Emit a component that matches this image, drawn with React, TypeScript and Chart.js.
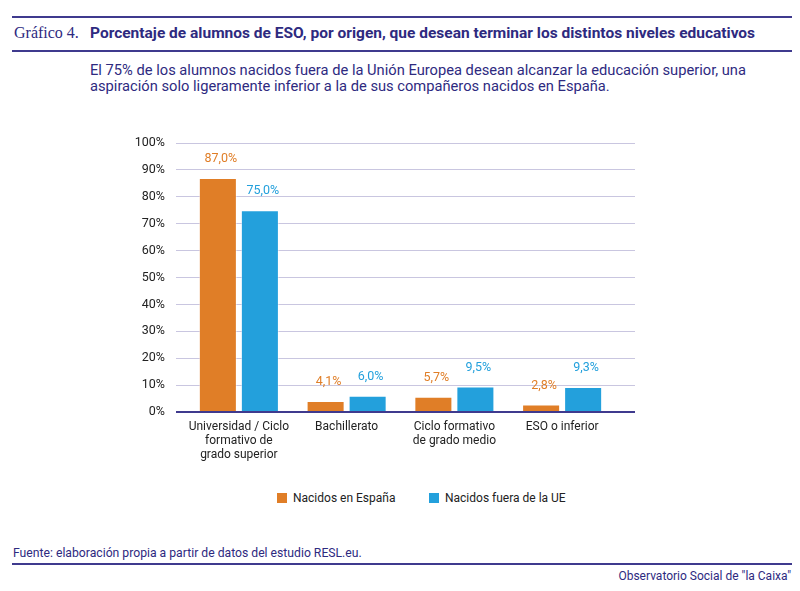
import React, { useEffect, useRef } from 'react';
import { Chart, registerables } from 'chart.js';

Chart.register(...registerables);

// Data
const categories: string[][] = [
  ['Universidad / Ciclo', 'formativo de', 'grado superior'],
  ['Bachillerato'],
  ['Ciclo formativo', 'de grado medio'],
  ['ESO o inferior'],
];
const seriesNames = ['Nacidos en España', 'Nacidos fuera de la UE'];
const espana = [87.0, 4.1, 5.7, 2.8];
const fueraUE = [75.0, 6.0, 9.5, 9.3];
const yTicks = [0, 10, 20, 30, 40, 50, 60, 70, 80, 90, 100];

const ORANGE = '#E07E27';
const BLUE = '#23A0DC';
const NAVY = '#2E2A7F';
const LINE = '#3F3A8E';
const FONT = 'Roboto, "Liberation Sans", Arial, sans-serif';

// draws the value above each bar in the colour of its series
const valueLabels = {
  id: 'valueLabels',
  afterDatasetsDraw(chart: any) {
    const ctx = chart.ctx;
    ctx.save();
    ctx.font = `12.5px ${FONT}`;
    ctx.textAlign = 'center';
    ctx.textBaseline = 'middle';
    chart.data.datasets.forEach((ds: any, i: number) => {
      const meta = chart.getDatasetMeta(i);
      ctx.fillStyle = ds.backgroundColor;
      meta.data.forEach((bar: any, j: number) => {
        const v = ds.data[j] as number;
        ctx.fillText(v.toFixed(1).replace('.', ',') + '%', bar.x + 3, bar.y - 19);
      });
    });
    ctx.restore();
  },
};

// the bars sit in a band a little narrower than the gridlines
const insetCategories = {
  id: 'insetCategories',
  afterLayout(chart: any) {
    const x = chart.scales.x;
    x.left += 9;
    x.right -= 19;
    x.width = x.right - x.left;
    x.configure();
  },
};

const BarChart: React.FC = () => {
  const canvasRef = useRef<HTMLCanvasElement | null>(null);

  useEffect(() => {
    if (!canvasRef.current) return;
    const ctx = canvasRef.current.getContext('2d');
    if (!ctx) return;

    const chart = new Chart(ctx, {
      type: 'bar',
      data: {
        labels: categories,
        datasets: [
          {
            label: seriesNames[0],
            data: espana,
            backgroundColor: ORANGE,
            borderColor: 'rgba(255,255,255,0.45)',
            borderWidth: 1,
            categoryPercentage: 0.78,
            barPercentage: 0.905,
          },
          {
            label: seriesNames[1],
            data: fueraUE,
            backgroundColor: BLUE,
            borderColor: 'rgba(255,255,255,0.45)',
            borderWidth: 1,
            categoryPercentage: 0.78,
            barPercentage: 0.905,
          },
        ],
      },
      options: {
        animation: false,
        responsive: true,
        maintainAspectRatio: false,
        layout: { padding: { left: 120, right: 165, top: 21, bottom: 0 } },
        plugins: {
          legend: { display: false },
          tooltip: { enabled: false },
        },
        scales: {
          x: {
            grid: { display: false, drawTicks: false },
            border: { display: false },
            ticks: {
              padding: 8,
              color: '#222',
              font: { family: FONT, size: 12, lineHeight: 1.17 },
            },
            afterFit: (s: any) => {
              s.height = 70;
            },
          },
          y: {
            min: 0,
            max: 100,
            afterBuildTicks: (s: any) => {
              s.ticks = yTicks.map((v) => ({ value: v }));
            },
            grid: {
              color: (c: any) => (c.tick && c.tick.value === 0 ? LINE : '#C9C6E0'),
              lineWidth: (c: any) => (c.tick && c.tick.value === 0 ? 2 : 1),
              drawTicks: false,
            },
            border: { display: false },
            ticks: {
              padding: 11,
              color: '#222',
              font: { family: FONT, size: 12.5 },
              callback: (v: any) => v + '%',
            },
            afterFit: (s: any) => {
              s.width = 56;
            },
          },
        },
      },
      plugins: [insetCategories, valueLabels],
    });

    return () => {
      chart.destroy();
    };
  }, []);

  return (
    <div style={{ position: 'absolute', left: 0, top: 122, width: 800, height: 360 }}>
      <canvas ref={canvasRef} />
    </div>
  );
};

const App: React.FC = () => {
  const colors = [ORANGE, BLUE];
  const legendX = [277, 429];
  return (
    <div
      style={{
        position: 'absolute',
        left: 0,
        top: 0,
        width: 800,
        height: 591,
        background: '#fff',
        fontFamily: FONT,
        overflow: 'hidden',
      }}
    >
      <div style={{ position: 'absolute', left: 12, right: 8, top: 16, height: 2, background: LINE }} />
      <div
        style={{
          position: 'absolute',
          left: 14,
          top: 24,
          fontFamily: '"Liberation Serif", "DejaVu Serif", serif',
          fontSize: 16,
          color: NAVY,
          whiteSpace: 'nowrap',
        }}
      >
        Gráfico 4.
      </div>
      <div
        style={{
          position: 'absolute',
          left: 90,
          top: 24,
          fontSize: 15.5,
          fontWeight: 700,
          color: NAVY,
          whiteSpace: 'nowrap',
        }}
      >
        Porcentaje de alumnos de ESO, por origen, que desean terminar los distintos niveles educativos
      </div>
      <div style={{ position: 'absolute', left: 12, right: 8, top: 50, height: 2, background: LINE }} />
      <div
        style={{
          position: 'absolute',
          left: 90,
          top: 62,
          width: 700,
          fontSize: 14.7,
          lineHeight: '16px',
          color: NAVY,
          whiteSpace: 'nowrap',
        }}
      >
        El 75% de los alumnos nacidos fuera de la Unión Europea desean alcanzar la educación superior, una
        <br />
        aspiración solo ligeramente inferior a la de sus compañeros nacidos en España.
      </div>

      <BarChart />

      {seriesNames.map((name, i) => (
        <div
          key={name}
          style={{
            position: 'absolute',
            left: legendX[i],
            top: 491,
            display: 'flex',
            alignItems: 'center',
            fontSize: 12,
            color: '#222',
            whiteSpace: 'nowrap',
          }}
        >
          <span style={{ display: 'inline-block', width: 10, height: 10, background: colors[i], marginRight: 6 }} />
          {name}
        </div>
      ))}

      <div style={{ position: 'absolute', left: 13, top: 546, fontSize: 12.2, color: NAVY, whiteSpace: 'nowrap' }}>
        Fuente: elaboración propia a partir de datos del estudio RESL.eu.
      </div>
      <div style={{ position: 'absolute', left: 12, right: 8, top: 563, height: 2, background: LINE }} />
      <div style={{ position: 'absolute', right: 9, top: 569, fontSize: 12, color: NAVY, whiteSpace: 'nowrap' }}>
        Observatorio Social de "la Caixa"
      </div>
    </div>
  );
};

export default App;
